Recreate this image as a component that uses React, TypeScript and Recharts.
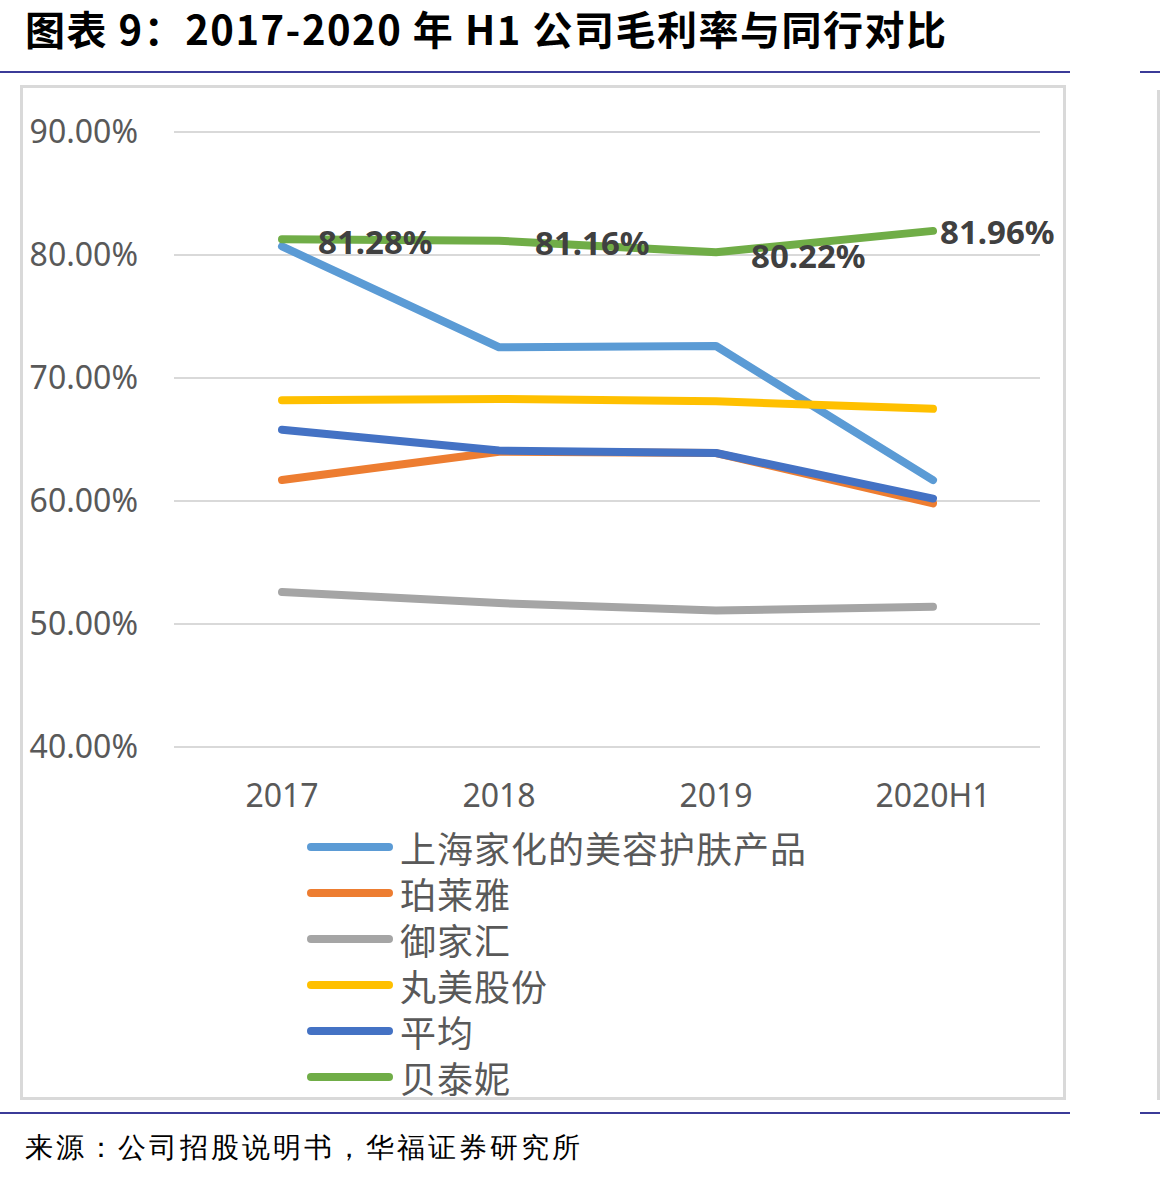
import { CartesianGrid, LabelList, Line, LineChart, XAxis, YAxis } from "recharts";

const years = ["2017", "2018", "2019", "2020H1"];
const jahwa = [80.7, 72.5, 72.6, 61.7];
const proya = [61.7, 64.0, 63.9, 59.8];
const yujiahui = [52.6, 51.7, 51.1, 51.4];
const marubi = [68.2, 68.3, 68.1, 67.5];
const average = [65.8, 64.1, 63.9, 60.2];
const botanee = [81.28, 81.16, 80.22, 81.96];
const yTicks = [40, 50, 60, 70, 80, 90];

const series = [
  { key: "jahwa", name: "上海家化的美容护肤产品", values: jahwa, color: "#5B9BD5" },
  { key: "proya", name: "珀莱雅", values: proya, color: "#ED7D31" },
  { key: "yujiahui", name: "御家汇", values: yujiahui, color: "#A5A5A5" },
  { key: "marubi", name: "丸美股份", values: marubi, color: "#FFC000" },
  { key: "average", name: "平均", values: average, color: "#4472C4" },
  { key: "botanee", name: "贝泰妮", values: botanee, color: "#70AD47" },
];

const data = years.map((year, i) => {
  const row: Record<string, string | number> = { year };
  series.forEach((s) => {
    row[s.key] = s.values[i];
  });
  return row;
});

const pct = (v: number) => v.toFixed(2) + "%";

// label nudges for the 贝泰妮 data labels
const labelDx = [36, 36, 35, 7];
const labelDy = [2, 2, 3, 1];

const sans = '"Noto Sans", "Noto Sans CJK SC", sans-serif';

function GreenLabel(props: any) {
  const { x, y, index, value } = props;
  return (
    <text
      x={x + labelDx[index]}
      y={y + labelDy[index]}
      textAnchor="start"
      dominantBaseline="central"
      fontSize={33}
      fontWeight={700}
      fontFamily={sans}
      fill="#404040"
    >
      {pct(value)}
    </text>
  );
}

export default function App() {
  return (
    <div
      style={{
        position: "absolute",
        left: 0,
        top: 0,
        width: 1160,
        height: 1180,
        background: "#fff",
        overflow: "hidden",
        fontFamily: '"Noto Sans CJK SC", sans-serif',
      }}
    >
      <div
        style={{
          position: "absolute",
          left: 25,
          top: 8,
          fontSize: 40,
          lineHeight: "40px",
          fontWeight: 700,
          letterSpacing: 1.5,
          color: "#000",
          whiteSpace: "nowrap",
        }}
      >
        图表 9：2017-2020 年 H1 公司毛利率与同行对比
      </div>
      <div style={{ position: "absolute", left: 0, top: 71, width: 1070, height: 2, background: "#3b3b98" }} />
      <div style={{ position: "absolute", left: 1140, top: 71, width: 20, height: 2, background: "#3b3b98" }} />
      <div style={{ position: "absolute", left: 0, top: 1112, width: 1070, height: 2, background: "#3b3b98" }} />
      <div style={{ position: "absolute", left: 1140, top: 1112, width: 20, height: 2, background: "#3b3b98" }} />
      <div style={{ position: "absolute", left: 1157, top: 90, width: 3, height: 1010, background: "#d9d9d9" }} />

      <div
        style={{
          position: "absolute",
          left: 20,
          top: 85,
          width: 1046,
          height: 1015,
          border: "3px solid #d9d9d9",
          boxSizing: "border-box",
        }}
      />

      <div style={{ position: "absolute", left: 20, top: 85 }}>
        <LineChart width={1046} height={1015} data={data} margin={{ top: 47, right: 26, left: 0, bottom: 293 }}>
          <CartesianGrid vertical={false} stroke="#d9d9d9" strokeWidth={2} />
          <XAxis
            dataKey="year"
            height={60}
            padding={{ left: 108, right: 107 }}
            axisLine={false}
            tickLine={false}
            tickSize={0}
            tickMargin={37}
            tick={{ fill: "#595959", fontSize: 32, fontFamily: sans }}
          />
          <YAxis
            width={154}
            domain={[40, 90]}
            ticks={yTicks}
            axisLine={false}
            tickLine={false}
            tickSize={0}
            tickMargin={36}
            tickFormatter={pct}
            tick={{ fill: "#595959", fontSize: 32, fontFamily: sans }}
          />
          {series.map((s) => (
            <Line
              key={s.key}
              dataKey={s.key}
              name={s.name}
              type="linear"
              stroke={s.color}
              strokeWidth={8}
              strokeLinecap="round"
              strokeLinejoin="round"
              dot={false}
              activeDot={false}
              isAnimationActive={false}
            >
              {s.key === "botanee" && <LabelList dataKey={s.key} content={GreenLabel} />}
            </Line>
          ))}
        </LineChart>
      </div>

      {series.map((s, i) => (
        <div key={s.key}>
          <div
            style={{
              position: "absolute",
              left: 307,
              top: 843 + i * 46,
              width: 86,
              height: 8,
              borderRadius: 4,
              background: s.color,
            }}
          />
          <div
            style={{
              position: "absolute",
              left: 400,
              top: 828 + i * 46,
              height: 38,
              fontSize: 36,
              lineHeight: "38px",
              color: "#595959",
              whiteSpace: "nowrap",
              letterSpacing: 1,
            }}
          >
            {s.name}
          </div>
        </div>
      ))}

      <div
        style={{
          position: "absolute",
          left: 25,
          top: 1133,
          fontSize: 28,
          lineHeight: "30px",
          color: "#000",
          whiteSpace: "nowrap",
          fontFamily: "serif",
          letterSpacing: 3,
        }}
      >
        来源：公司招股说明书，华福证券研究所
      </div>
    </div>
  );
}
